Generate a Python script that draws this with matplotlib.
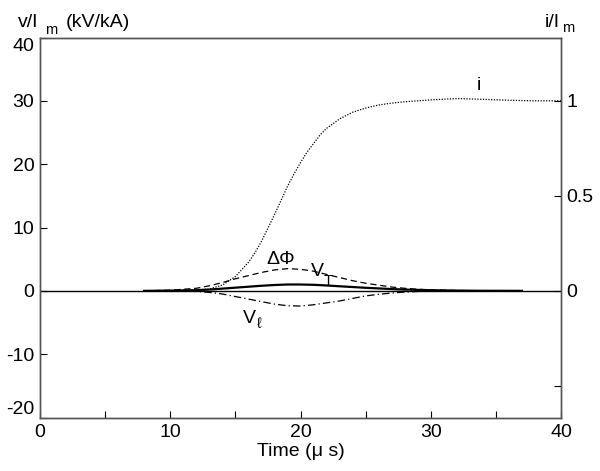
import matplotlib
matplotlib.use("Agg")
import matplotlib.pyplot as plt

plt.rcParams['font.family'] = ['Liberation Sans', 'DejaVu Sans']

# Current i/Im (right axis)
t_i = [8, 10, 12, 13, 14, 15, 16, 16.5, 17, 17.5, 18, 18.5, 19, 19.5, 20, 20.5, 21, 21.5, 22, 23, 24, 25,
       26, 27, 28, 30, 32, 34, 36, 38, 40]
i_vals = [0.0, 0.003, 0.005, 0.01, 0.03, 0.075, 0.15, 0.2, 0.26, 0.33, 0.40, 0.475, 0.55, 0.615, 0.675,
          0.73, 0.775, 0.82, 0.855, 0.905, 0.94, 0.962, 0.978, 0.988, 0.995, 1.005, 1.012, 1.008, 1.003,
          1.0, 1.0]

# Voltages v/Im (left axis, kV/kA)
t_v = [8, 10, 12, 13, 14, 15, 16, 17, 18, 19, 20, 21, 22, 23, 24, 25, 26, 27, 28, 29, 30, 32, 34, 37]
dphi = [0.0, 0.1, 0.4, 0.8, 1.3, 1.9, 2.4, 2.9, 3.3, 3.5, 3.4, 3.1, 2.6, 2.1, 1.6, 1.2, 0.9, 0.6, 0.4, 0.25,
        0.15, 0.05, 0.02, 0.0]
v_t = [0.0, 0.02, 0.1, 0.2, 0.35, 0.5, 0.65, 0.8, 0.92, 1.0, 1.0, 0.95, 0.85, 0.72, 0.6, 0.48, 0.38, 0.28,
       0.2, 0.15, 0.1, 0.04, 0.01, 0.0]
v_l = [0.0, 0.0, -0.1, -0.25, -0.5, -0.9, -1.3, -1.7, -2.1, -2.35, -2.4, -2.2, -1.9, -1.6, -1.2, -0.8,
       -0.55, -0.35, -0.2, -0.1, -0.05, 0.0, 0.0, 0.0]

x_ticks = [0, 5, 10, 15, 20, 25, 30, 35, 40]
x_ticklabels = ['0', '', '10', '', '20', '', '30', '', '40']
yl_ticks = [-20, -10, 0, 10, 20, 30, 40]
yr_ticks = [-0.5, 0, 0.5, 1]
yr_ticklabels = ['', '0', '0.5', '1']

fs = 14
fsub = 10.5
W, H = 600, 471
fig = plt.figure(figsize=(6, 4.71), dpi=100)
ax = fig.add_axes([40 / W, 1 - 417.5 / H, 521 / W, 380 / H])
ax2 = ax.twinx()

ax.axhline(0, color='black', lw=1.0)
ax.plot(t_v, dphi, color='black', lw=0.9, ls=(0, (5, 3)))
ax.plot(t_v, v_t, color='black', lw=1.6, ls='-')
ax.plot(t_v, v_l, color='black', lw=0.9, ls=(0, (6, 2.5, 1, 2.5)))
ax2.plot(t_i, i_vals, color='black', lw=0.9, ls=(0, (1, 1.2)))

ax.set_xlim(0, 40)
ax.set_ylim(-20, 40)
ax2.set_ylim(-20 / 30, 40 / 30)

ax.set_xticks(x_ticks)
ax.set_xticklabels(x_ticklabels, fontsize=fs)
ax.set_yticks(yl_ticks)
ax.set_yticklabels([str(v) for v in yl_ticks], fontsize=fs)
ax2.set_yticks(yr_ticks)
ax2.set_yticklabels(yr_ticklabels, fontsize=fs)

for a in (ax, ax2):
    a.tick_params(direction='in', length=5, width=0.8, colors='black', pad=4)
    for s in a.spines.values():
        s.set_linewidth(1.0)
        s.set_color('#555555')
ax.tick_params(axis='x', pad=5)

labs = ax.get_yticklabels()
labs[0].set_va('bottom')
labs[-1].set_va('top')

ax.set_xlabel('Time (\u03bc s)', fontsize=fs, labelpad=1)

ax.text(33.7, 32.5, 'i', fontsize=fs, ha='center', va='center')
ax.text(18.5, 5.0, '\u0394\u03a6', fontsize=fs, ha='center', va='center')
ax.text(21.3, 3.0, 'V', fontsize=fs, ha='center', va='center')
ax.text(22.1, 1.6, 'T', fontsize=fsub, ha='center', va='center')
ax.text(16.1, -4.3, 'V', fontsize=fs, ha='center', va='center')
ax.text(16.8, -5.3, '\u2113', fontsize=fsub, ha='center', va='center')

fig.text(18 / W, 1 - 27 / H, 'v/I', fontsize=fs, ha='left', va='baseline')
fig.text(45 / W, 1 - 34 / H, 'm', fontsize=fsub, ha='left', va='baseline')
fig.text(66 / W, 1 - 27 / H, '(kV/kA)', fontsize=fs, ha='left', va='baseline')
fig.text(545 / W, 1 - 27 / H, 'i/I', fontsize=fs, ha='left', va='baseline')
fig.text(562 / W, 1 - 32 / H, 'm', fontsize=fsub, ha='left', va='baseline')

fig.savefig('out.png', dpi=100)
